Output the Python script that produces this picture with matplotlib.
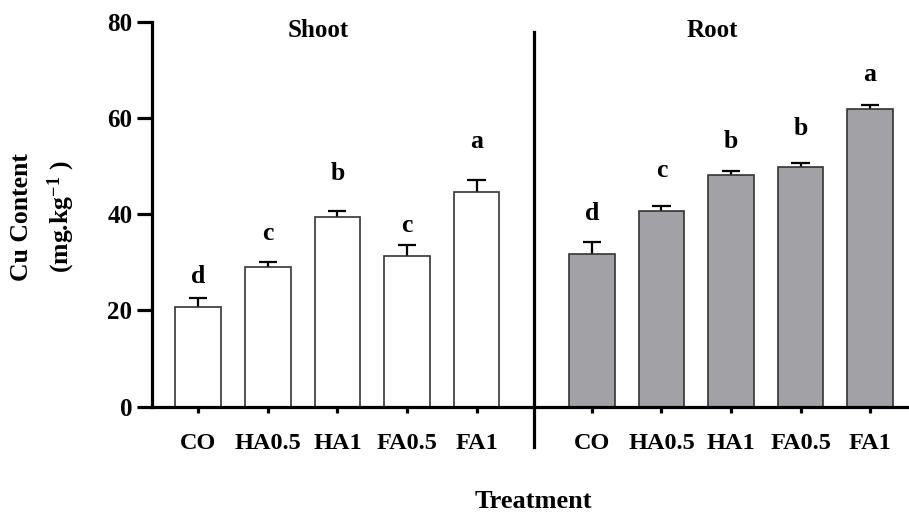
import matplotlib.pyplot as plt
import numpy as np
from matplotlib import transforms

plt.rcParams['font.family'] = ['Liberation Serif', 'DejaVu Serif']
plt.rcParams['font.weight'] = 'bold'
plt.rcParams['mathtext.fontset'] = 'custom'
plt.rcParams['mathtext.rm'] = 'Liberation Serif:bold'
plt.rcParams['mathtext.bf'] = 'Liberation Serif:bold'
plt.rcParams['mathtext.default'] = 'bf'

treatments = ["CO", "HA0.5", "HA1", "FA0.5", "FA1"]
shoot = np.array([20.8, 29.1, 39.4, 31.4, 44.6])
shoot_err = np.array([1.7, 0.9, 1.3, 2.2, 2.5])
shoot_letters = ["d", "c", "b", "c", "a"]
shoot_letter_y = np.array([25.8, 34.6, 47.2, 36.2, 53.7])

root = np.array([31.7, 40.7, 48.1, 49.9, 61.8])
root_err = np.array([2.6, 1.0, 0.9, 0.7, 0.8])
root_letters = ["d", "c", "b", "b", "a"]
root_letter_y = np.array([38.7, 47.7, 53.8, 56.5, 67.7])

shoot_x = np.arange(5)
root_x = np.arange(5) + 5.66
w = 0.66
cap = 0.13

fig = plt.figure(figsize=(9.09, 5.13), dpi=100)
ax = fig.add_axes([0.167, 0.2072, 0.833, 0.7505])

ax.bar(shoot_x, shoot, w, color="white", edgecolor="#333333", linewidth=1.2, zorder=2)
ax.bar(root_x, root, w, color="#a2a1a6", edgecolor="#333333", linewidth=1.2, zorder=2)

for xs, vals, errs in [(shoot_x, shoot, shoot_err), (root_x, root, root_err)]:
    ax.vlines(xs, vals, vals + errs, color="black", linewidth=1.6, zorder=1)
    ax.hlines(vals + errs, xs - cap, xs + cap, color="black", linewidth=1.6, zorder=1)

for xs, labs, ys in [(shoot_x, shoot_letters, shoot_letter_y), (root_x, root_letters, root_letter_y)]:
    for x, lab, y in zip(xs, labs, ys):
        ax.text(x, y, lab, ha="center", va="baseline", fontsize=18.5, fontweight="bold")

ax.text(1.72, 78.1, "Shoot", ha="center", va="center", fontsize=18, fontweight="bold")
ax.text(7.39, 78.1, "Root", ha="center", va="center", fontsize=18, fontweight="bold")

# divider between shoot and root
trans = transforms.blended_transform_factory(ax.transData, ax.transAxes)
ax.plot([4.83, 4.83], [0.974, -0.105], color="black", linewidth=2.3, transform=trans, clip_on=False)

ax.set_xlim(-0.67, 10.22)
ax.set_ylim(0, 80)
ax.set_yticks([0, 20, 40, 60, 80])
ax.set_xticks(np.concatenate([shoot_x, root_x]))
ax.set_xticklabels(treatments + treatments)

for s in ["top", "right"]:
    ax.spines[s].set_visible(False)
for s in ["left", "bottom"]:
    ax.spines[s].set_linewidth(2.3)

ax.tick_params(axis="y", length=11, width=2.3, pad=3, labelsize=18)
ax.tick_params(axis="x", length=4, width=2.3, pad=15, labelsize=17.5)

fig.text(533 / 909, 1 - 501 / 513, "Treatment", ha="center", va="center", fontsize=19, fontweight="bold")
fig.text(22 / 909, 1 - 217 / 513, "Cu Content", ha="center", va="center", rotation=90, fontsize=18.5, fontweight="bold")
fig.text(61 / 909, 1 - 217 / 513, r"(mg.kg$^{-1}$ )", ha="center", va="center", rotation=90, fontsize=18.5, fontweight="bold")

fig.savefig("out.png", dpi=100)
